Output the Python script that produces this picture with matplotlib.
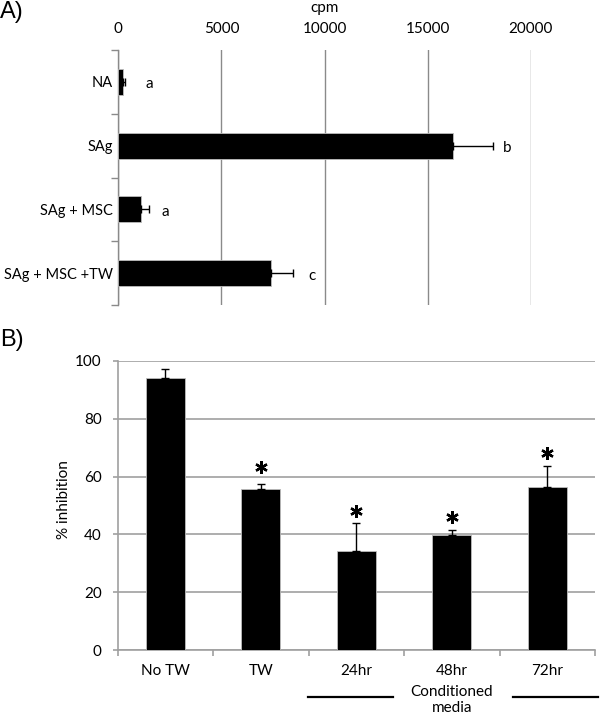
import matplotlib
matplotlib.use("Agg")
import matplotlib.pyplot as plt
import numpy as np

plt.rcParams['font.family'] = ['Lato', 'DejaVu Sans']

# Panel A data
a_categories = ["NA", "SAg", "SAg + MSC", "SAg + MSC +TW"]
a_values = [250, 16220, 1085, 7390]
a_errors = [80, 1970, 400, 1070]
a_letters = ["a", "b", "a", "c"]
a_letter_x = [1490, 18850, 2280, 9380]
a_ticks = [0, 5000, 10000, 15000, 20000]

# Panel B data
b_categories = ["No TW", "TW", "24hr", "48hr", "72hr"]
b_values = [94.0, 55.8, 34.1, 39.9, 56.4]
b_errors = [3.1, 1.6, 10.0, 1.6, 7.4]
b_star_y = [np.nan, 63.2, 48.1, 46.1, 68.1]
b_yticks = [0, 20, 40, 60, 80, 100]

W, H = 600, 717
FS = 11
fig = plt.figure(figsize=(6, 7.17), dpi=100)

# ---- Panel A ----
gridA = "#8a8a8a"
axA = fig.add_axes([118.3/W, 1-305/H, (530.7-118.3)/W, (305-50)/H])
ypos = np.arange(len(a_categories))
axA.barh(ypos, a_values, height=0.41, color="black", edgecolor="#bdbdbd", linewidth=0.6,
         xerr=[np.zeros(len(a_errors)), a_errors],
         error_kw=dict(ecolor="black", elinewidth=1.0, capsize=3, capthick=1.0), zorder=3)
for y, lx, t in zip(ypos, a_letter_x, a_letters):
    axA.text(lx, y + 0.04, t, ha="center", va="center", fontsize=FS)
axA.set_xlim(0, 20000)
axA.set_ylim(len(a_categories)-0.5, -0.5)
axA.xaxis.tick_top()
axA.set_xticks(a_ticks)
axA.set_xticklabels([str(t) for t in a_ticks], fontsize=FS)
axA.tick_params(axis="x", length=0, pad=10)
axA.set_yticks(ypos)
axA.set_yticklabels(a_categories, fontsize=10.5)
axA.set_yticks(np.arange(-0.5, len(a_categories)), minor=True)
axA.tick_params(axis="y", which="major", length=0, pad=4)
axA.tick_params(axis="y", which="minor", length=5, color=gridA, width=1)
for s in ["top", "right", "bottom"]:
    axA.spines[s].set_visible(False)
axA.spines["left"].set_color(gridA)
axA.spines["left"].set_linewidth(1.0)
axA.grid(axis="x", color=gridA, linewidth=1.0, zorder=0)
axA.set_axisbelow(True)
fig.text(324.5/W, 1-8/H, "cpm", fontsize=FS, ha="center", va="center")
fig.text(0/W, 1-12/H, "A)", fontsize=17, ha="left", va="center",
         family=["Liberation Sans", "DejaVu Sans"])

# ---- Panel B ----
gridB = "#a0a0a0"
axB = fig.add_axes([117.7/W, 1-650/H, (595-117.7)/W, (650-361)/H])
xpos = np.arange(len(b_categories))
axB.bar(xpos, b_values, width=0.41, color="black", edgecolor="#bdbdbd", linewidth=0.6,
        yerr=[np.zeros(len(b_errors)), b_errors],
        error_kw=dict(ecolor="black", elinewidth=1.0, capsize=3, capthick=1.0), zorder=3)
axB.plot(xpos, b_star_y, linestyle="none", marker=(6, 2, 0), markersize=9,
         markeredgewidth=1.7, color="black", zorder=4)
axB.set_ylim(0, 100)
axB.set_xlim(-0.5, len(b_categories)-0.5)
axB.set_yticks(b_yticks)
axB.set_yticklabels([str(t) for t in b_yticks], fontsize=FS)
axB.tick_params(axis="y", length=3.6, color=gridB, width=1.2, pad=8)
axB.set_xticks(xpos)
axB.set_xticklabels(b_categories, fontsize=FS)
axB.set_xticks(np.arange(-0.5, len(b_categories)), minor=True)
axB.tick_params(axis="x", which="major", length=0, pad=10)
axB.tick_params(axis="x", which="minor", length=4, color=gridB, width=1.2)
for s in ["top", "right"]:
    axB.spines[s].set_visible(False)
axB.spines["left"].set_color(gridB)
axB.spines["bottom"].set_color(gridB)
axB.spines["left"].set_linewidth(1.2)
axB.spines["bottom"].set_linewidth(1.2)
axB.grid(axis="y", color=gridB, linewidth=1.2, zorder=0)
axB.set_axisbelow(True)
fig.text(64/W, 1-500/H, "% inhibition", fontsize=FS, rotation=90, ha="center", va="center")
fig.text(0/W, 1-340/H, "B)", fontsize=17, ha="left", va="center",
         family=["Liberation Sans", "DejaVu Sans"])

# Conditioned media annotation
fig.text(452/W, 1-691.5/H, "Conditioned", fontsize=FS, ha="center", va="center")
fig.text(452/W, 1-708/H, "media", fontsize=FS, ha="center", va="center")
fig.add_artist(plt.Line2D([308.3/W, 393.3/W], [1-697.3/H, 1-697.3/H], color="black", linewidth=1.6))
fig.add_artist(plt.Line2D([512.7/W, 598.3/W], [1-697.3/H, 1-697.3/H], color="black", linewidth=1.6))

fig.savefig("out.png", dpi=100, facecolor="white")
